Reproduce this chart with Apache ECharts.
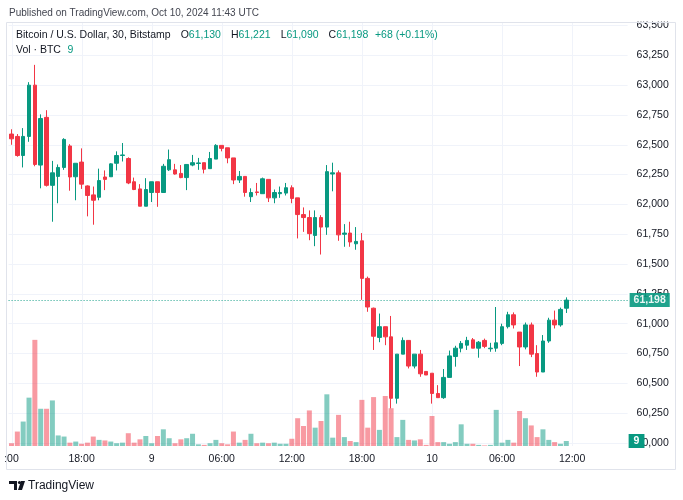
<!DOCTYPE html>
<html><head><meta charset="utf-8">
<script src="https://cdn.jsdelivr.net/npm/echarts@6/dist/echarts.min.js"></script>
<style>html,body{margin:0;padding:0;background:#fff}#c{width:683px;height:500px}</style>
</head><body><div id="c"></div>
<script>
// 30-minute slots, Oct 8 12:00 UTC -> Oct 10 16:30 UTC (last 10 slots are empty future space)
const categories = [
'10-08 12:00','10-08 12:30','10-08 13:00','10-08 13:30','10-08 14:00','10-08 14:30','10-08 15:00','10-08 15:30',
'10-08 16:00','10-08 16:30','10-08 17:00','10-08 17:30','10-08 18:00','10-08 18:30','10-08 19:00','10-08 19:30',
'10-08 20:00','10-08 20:30','10-08 21:00','10-08 21:30','10-08 22:00','10-08 22:30','10-08 23:00','10-08 23:30',
'10-09 00:00','10-09 00:30','10-09 01:00','10-09 01:30','10-09 02:00','10-09 02:30','10-09 03:00','10-09 03:30',
'10-09 04:00','10-09 04:30','10-09 05:00','10-09 05:30','10-09 06:00','10-09 06:30','10-09 07:00','10-09 07:30',
'10-09 08:00','10-09 08:30','10-09 09:00','10-09 09:30','10-09 10:00','10-09 10:30','10-09 11:00','10-09 11:30',
'10-09 12:00','10-09 12:30','10-09 13:00','10-09 13:30','10-09 14:00','10-09 14:30','10-09 15:00','10-09 15:30',
'10-09 16:00','10-09 16:30','10-09 17:00','10-09 17:30','10-09 18:00','10-09 18:30','10-09 19:00','10-09 19:30',
'10-09 20:00','10-09 20:30','10-09 21:00','10-09 21:30','10-09 22:00','10-09 22:30','10-09 23:00','10-09 23:30',
'10-10 00:00','10-10 00:30','10-10 01:00','10-10 01:30','10-10 02:00','10-10 02:30','10-10 03:00','10-10 03:30',
'10-10 04:00','10-10 04:30','10-10 05:00','10-10 05:30','10-10 06:00','10-10 06:30','10-10 07:00','10-10 07:30',
'10-10 08:00','10-10 08:30','10-10 09:00','10-10 09:30','10-10 10:00','10-10 10:30','10-10 11:00','10-10 11:30',
'10-10 12:00','10-10 12:30','10-10 13:00','10-10 13:30','10-10 14:00','10-10 14:30','10-10 15:00','10-10 15:30',
'10-10 16:00','10-10 16:30'
];
const tickLabels = [':00','18:00','9','06:00','12:00','18:00','10','06:00','12:00'];
const tickIndices = [0,12,24,36,48,60,72,84,96];

const openP = [62590,62570,62410,62570,63000,62330,62730,62160,62235,62310,62490,62232,62355,62155,62080,62060,
62230,62232,62345,62410,62385,62190,62130,61985,62100,62190,62100,62290,62290,62260,62225,62330,
62343,62350,62300,62380,62495,62475,62390,62205,62235,62065,62105,62090,62210,62055,62090,62095,
62140,62055,61915,61890,61740,61890,61810,62255,62265,61750,61760,61670,61695,61380,61130,60885,
60975,60890,60375,60745,60860,60645,60745,60600,60585,60415,60380,60550,60725,60795,60820,60865,
60795,60860,60790,60795,60835,60975,61075,60930,60805,60990,60750,60595,60855,61030,60990,61130];
const highP = [62630,62590,62640,63025,63170,62755,62790,62365,62335,62555,62505,62345,62470,62160,62150,62300,
62285,62345,62445,62515,62395,62225,62170,62220,62190,62190,62340,62460,62340,62330,62335,62415,
62390,62350,62440,62505,62495,62475,62390,62280,62235,62135,62180,62225,62210,62125,62150,62180,
62160,62055,61975,61950,61950,61910,62330,62350,62285,61835,61855,61810,61760,61395,61135,61085,
60975,61065,60745,60885,60860,60745,60780,60600,60585,60485,60620,60775,60815,60855,60890,60880,
60855,60875,60840,61140,61000,61100,61095,60930,61010,61010,60820,60905,61050,61110,61135,61221];
const lowP = [62500,62400,62310,62525,62320,62135,62150,61855,62010,62290,62115,62035,62130,61900,61830,62035,
62120,62230,62285,62360,62170,62120,61985,61985,62020,61980,62100,62280,62250,62220,62120,62320,
62290,62260,62300,62380,62445,62345,62170,62180,62065,62020,62075,62090,62020,62010,62055,62075,
62010,61715,61770,61700,61650,61580,61745,62110,61695,61645,61645,61620,61200,61100,60780,60845,
60820,60290,60330,60745,60625,60625,60555,60570,60330,60380,60370,60550,60640,60760,60780,60795,
60715,60795,60765,60765,60820,60960,60960,60645,60785,60720,60555,60595,60840,60960,60975,61090];
const closeP = [62550,62410,62570,63000,62335,62720,62160,62265,62310,62545,62230,62345,62170,62075,62035,62200,
62210,62340,62410,62415,62180,62125,61985,62125,62190,62100,62320,62375,62255,62225,62335,62350,
62348,62295,62385,62495,62470,62390,62205,62235,62100,62100,62100,62215,62055,62100,62100,62140,
62050,61915,61890,61755,61890,61810,62275,62265,61745,61760,61685,61690,61380,61140,60895,60975,
60890,60375,60745,60860,60645,60745,60580,60570,60415,60380,60550,60730,60795,60835,60860,60795,
60845,60810,60795,60840,60975,61075,60990,60805,60990,60745,60595,60855,61030,60990,61120,61198];
const volumeBTC = [5,26,44,87,191,67,67,82,19,17,6,8,4,6,17,11,
10,8,5,6,23,6,12,18,5,18,30,14,5,12,14,22,
3,2,5,11,5,3,26,6,11,22,5,6,5,6,4,4,
13,50,36,64,33,45,93,15,56,16,9,7,83,33,88,29,
90,68,16,47,11,10,12,2,54,7,7,4,7,39,4,4,
2,1,2,65,6,11,6,63,50,37,16,30,11,7,4,9];

const UP = '#089981', DOWN = '#F23645';
const UP_V = 'rgba(8,153,129,0.5)', DOWN_V = 'rgba(242,54,69,0.5)';
const FONT = 'Liberation Sans';
const lastIdx = closeP.length - 1;

const candleData = openP.map((o, i) => [o, closeP[i], lowP[i], highP[i]]);
const volData = volumeBTC.map((v, i) => ({
  value: v,
  itemStyle: { color: closeP[i] >= openP[i] ? UP_V : DOWN_V }
}));
const fmt = v => Number(v).toLocaleString('en-US');

const BAND = 5.84;
const LEFT = 11.5 - BAND / 2;
const W = BAND * categories.length;

const chart = echarts.init(document.getElementById('c'), null, { renderer: 'canvas' });
const option = {
  animation: false,
  backgroundColor: '#fff',
  grid: [
    { left: LEFT, width: W, top: 25.5, height: 417.5, show: false },
    { left: LEFT, width: W, top: 22, height: 424, show: false }
  ],
  xAxis: [
    { type: 'category', gridIndex: 0, data: categories, boundaryGap: true,
      axisLine: { show: false }, axisTick: { show: false }, axisLabel: { show: false }, splitLine: { show: false } },
    { type: 'category', gridIndex: 1, data: categories, boundaryGap: true,
      axisLine: { show: false }, axisTick: { show: false }, splitLine: { show: false },
      axisLabel: {
        interval: (i) => i % 12 === 0,
        formatter: (v, i) => tickLabels[Math.round(i / 12)],
        color: '#131722', fontSize: 10.5, fontFamily: FONT, margin: 8
      } }
  ],
  yAxis: [
    { type: 'value', gridIndex: 0, position: 'right', min: 60000, max: 63500, interval: 250,
      axisLine: { show: false }, axisTick: { show: false },
      axisLabel: { formatter: fmt, color: '#131722', fontSize: 10.5, fontFamily: FONT, margin: 9 },
      splitLine: { lineStyle: { color: '#f0f3fa', width: 1 } } },
    { type: 'value', gridIndex: 1, min: 0, max: 763, show: false, splitLine: { show: false } }
  ],
  series: [
    {
      type: 'custom', xAxisIndex: 1, yAxisIndex: 1, silent: true, z: 0,
      data: tickIndices.map(i => [i, 0]),
      encode: { x: 0, y: 1 },
      renderItem: (params, api) => {
        const x = Math.round(api.coord([api.value(0), 0])[0]) + 0.5;
        const cs = params.coordSys;
        return { type: 'line', shape: { x1: x, y1: cs.y, x2: x, y2: cs.y + cs.height },
          style: { stroke: '#f0f3fa', lineWidth: 1 } };
      }
    },
    {
      type: 'bar', xAxisIndex: 1, yAxisIndex: 1, data: volData, barWidth: 5, z: 1, silent: true,
      markLine: {
        silent: true, symbol: ['none', 'none'],
        lineStyle: { color: 'rgba(0,0,0,0)', width: 0 },
        data: [{ yAxis: volumeBTC[lastIdx] }],
        label: { show: true, position: 'end', distance: 1, formatter: String(volumeBTC[lastIdx]),
          backgroundColor: UP, color: '#fff', padding: [2, 5, 1, 5], fontSize: 10.5, fontFamily: FONT, fontWeight: 'bold' }
      }
    },
    {
      type: 'candlestick', xAxisIndex: 0, yAxisIndex: 0, data: candleData, barWidth: 4, z: 3, silent: true,
      itemStyle: { color: UP, color0: DOWN, borderColor: UP, borderColor0: DOWN, borderWidth: 1 },
      markLine: {
        silent: true, symbol: ['none', 'none'],
        lineStyle: { type: [1, 2], color: UP, width: 1, opacity: 0.9 },
        data: [{ yAxis: closeP[lastIdx] }],
        label: { show: true, position: 'end', distance: 2, formatter: fmt(closeP[lastIdx]),
          backgroundColor: UP, color: '#fff', padding: [2, 4, 1, 4], fontSize: 10.5, fontFamily: FONT, fontWeight: 'bold' }
      }
    }
  ],
  graphic: [
    { type: 'rect', z: 100, shape: { x: 600, y: 0, width: 83, height: 21.5 }, style: { fill: '#fff' } },
    { type: 'rect', z: 101, shape: { x: 6.5, y: 22.5, width: 669, height: 447 },
      style: { fill: 'none', stroke: '#e0e3eb', lineWidth: 1 } },
    { type: 'text', z: 102, x: 9, y: 13,
      style: { text: 'Published on TradingView.com, Oct 10, 2024 11:43 UTC', fill: '#434651',
        font: '10px "' + FONT + '"', verticalAlign: 'middle' } },
    { type: 'text', z: 102, x: 16, y: 35,
      style: {
        text: '{d|Bitcoin / U.S. Dollar, 30, Bitstamp}   {d|O}{g|' + fmt(openP[lastIdx]) + '}   {d|H}{g|' + fmt(highP[lastIdx]) +
          '}   {d|L}{g|' + fmt(lowP[lastIdx]) + '}   {d|C}{g|' + fmt(closeP[lastIdx]) + '}  {g|+68 (+0.11%)}',
        verticalAlign: 'middle',
        rich: {
          d: { fill: '#131722', font: '10.5px "' + FONT + '"' },
          g: { fill: UP, font: '10.5px "' + FONT + '"' }
        }
      } },
    { type: 'text', z: 102, x: 16, y: 50,
      style: {
        text: '{d|Vol · BTC}  {g|' + volumeBTC[lastIdx] + '}', verticalAlign: 'middle',
        rich: {
          d: { fill: '#131722', font: '10.5px "' + FONT + '"' },
          g: { fill: UP, font: '10.5px "' + FONT + '"' }
        }
      } },
    { type: 'polygon', z: 102, shape: { points: [[9,481],[17,481],[17,490],[14,490],[14,484],[9,484]] }, style: { fill: '#131722' } },
    { type: 'circle', z: 102, shape: { cx: 19.5, cy: 482.5, r: 1.6 }, style: { fill: '#131722' } },
    { type: 'polygon', z: 102, shape: { points: [[21,481],[25,481],[22,490],[18,490]] }, style: { fill: '#131722' } },
    { type: 'text', z: 102, x: 28, y: 486,
      style: { text: 'TradingView', fill: '#131722', font: '12px "' + FONT + '"', verticalAlign: 'middle' } }
  ]
};
chart.setOption(option);
</script>
</body></html>
